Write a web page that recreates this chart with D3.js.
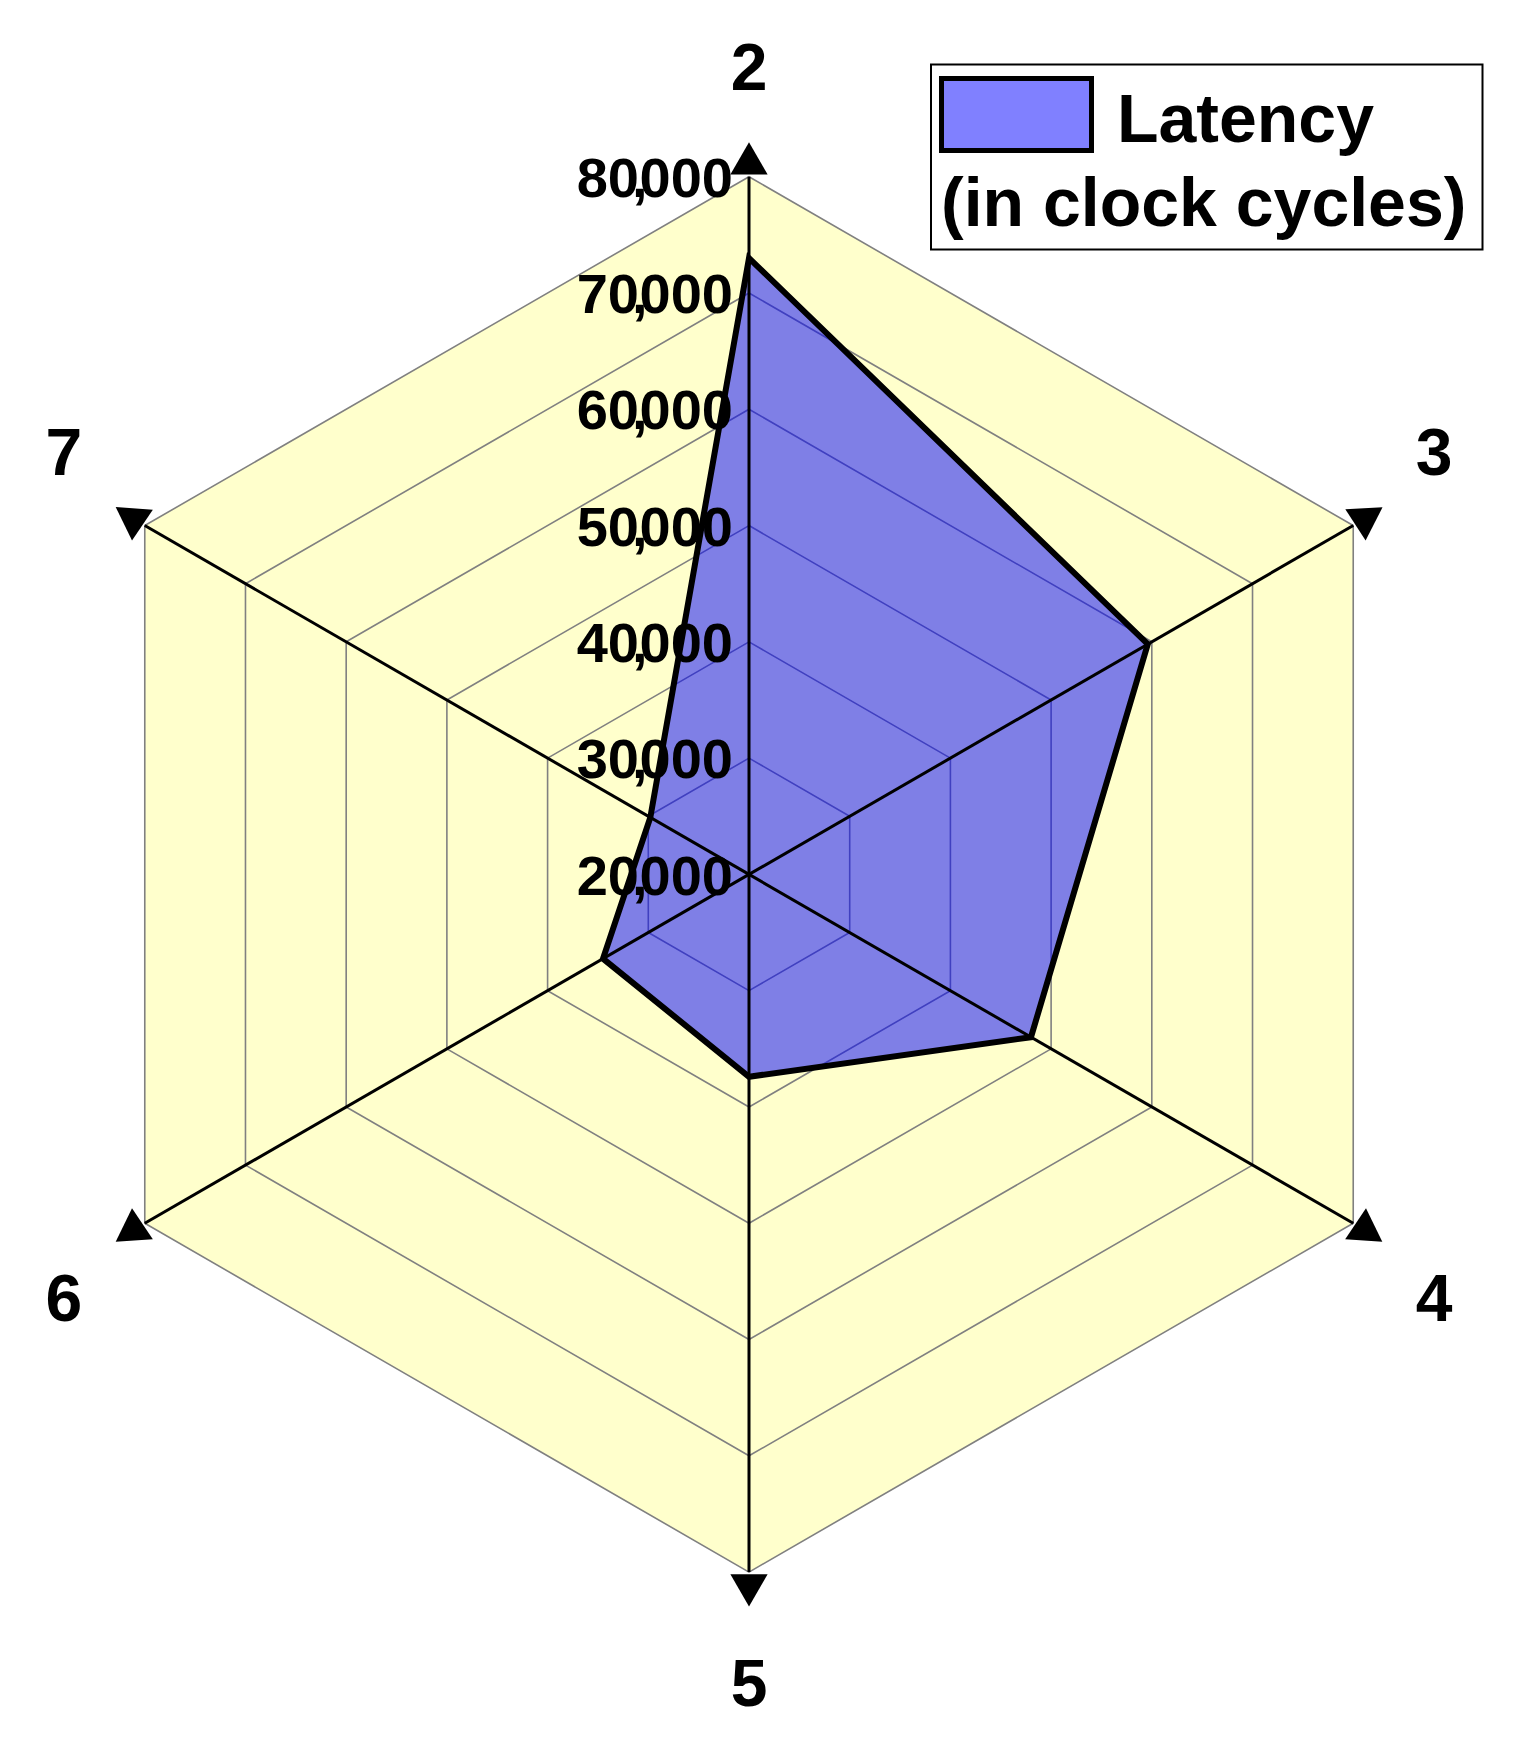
<!DOCTYPE html>
<html><head><meta charset="utf-8">
<script src="https://cdn.jsdelivr.net/npm/d3@7"></script>
<style>html,body{margin:0;padding:0;background:#fff}svg{display:block}text{font-family:"Liberation Sans",Arial,sans-serif;font-weight:bold}</style>
</head><body>
<svg id="chart" width="1526" height="1747"></svg>
<script>
const categories = ["2", "3", "4", "5", "6", "7"];
const latency = [73000, 59600, 48000, 37400, 34500, 29800];
const tickValues = [20000, 30000, 40000, 50000, 60000, 70000, 80000];
const seriesName = ["Latency", "(in clock cycles)"];

const W = 1526, H = 1747;
const cx = 749, cy = 874.4, R = 697.7;
const svg = d3.select("#chart");
const r = d3.scaleLinear().domain([20000, 80000]).range([0, R]);
const ang = d3.scalePoint().domain(categories).range([-90, 210]);
const pt = (c, v) => { const a = ang(c) * Math.PI / 180; return [cx + r(v) * Math.cos(a), cy + r(v) * Math.sin(a)]; };
const radial = d3.lineRadial().curve(d3.curveLinearClosed)
  .angle((d, i) => (ang(categories[i]) + 90) * Math.PI / 180);

const g = svg.append("g").attr("transform", `translate(${cx},${cy})`);
// yellow background
g.append("path").attr("d", radial.radius(() => r(80000))(categories)).attr("fill", "#FFFFCC").attr("stroke", "none");
// grid rings
tickValues.slice(1).forEach(t => {
  g.append("path").attr("d", radial.radius(() => r(t))(categories))
    .attr("fill", "none").attr("stroke", "#808080").attr("stroke-width", 1.6);
});
// axes
categories.forEach(c => {
  const [x, y] = pt(c, 80000);
  svg.append("line").attr("x1", cx).attr("y1", cy).attr("x2", x).attr("y2", y)
    .attr("stroke", "#000").attr("stroke-width", 3);
});
// arrow triangles
const rot = {"2": 0, "3": 177, "4": 4, "5": 180, "6": -4, "7": 184};
categories.forEach(c => {
  const a = ang(c) * Math.PI / 180;
  const [x, y] = pt(c, 80000);
  const tx = x + 13 * Math.cos(a), ty = y + 13 * Math.sin(a);
  svg.append("path").attr("d", d3.symbol(d3.symbolTriangle, 600)())
    .attr("transform", `translate(${tx},${ty}) rotate(${rot[c]})`).attr("fill", "#000");
});
// tick labels
tickValues.forEach(t => {
  const [x, y] = pt("2", t);
  const s = d3.format(",")(t).split(",");
  const tx = svg.append("text").attr("x", x - 16).attr("y", y).attr("dy", "0.36em")
    .attr("text-anchor", "end").attr("font-size", 56).attr("fill", "#000");
  tx.append("tspan").text(s[0]);
  tx.append("tspan").attr("dx", -7).text(",");
  tx.append("tspan").attr("dx", -8).text(s[1]);
});
// category labels
categories.forEach(c => {
  const a = ang(c) * Math.PI / 180;
  const [vx, vy] = pt(c, 80000);
  const diag = Math.abs(Math.cos(a)) > 0.1;
  const lx = diag ? vx + 81 * Math.sign(Math.cos(a)) : vx;
  const ly = vy + Math.sign(Math.sin(a)) * (diag ? 74 : 110);
  svg.append("text").attr("x", lx).attr("y", ly).attr("dy", "0.36em")
    .attr("text-anchor", "middle").attr("font-size", 66).attr("fill", "#000").text(c);
});
// data polygon
g.append("path").attr("d", radial.radius((d, i) => r(latency[i]))(categories))
  .attr("fill", "rgba(0,0,255,0.5)").attr("stroke", "#000").attr("stroke-width", 6)
  .attr("stroke-linejoin", "miter");
// legend
const lg = svg.append("g");
lg.append("rect").attr("x", 931).attr("y", 64.5).attr("width", 551.5).attr("height", 185)
  .attr("fill", "#fff").attr("stroke", "#000").attr("stroke-width", 2);
lg.append("rect").attr("x", 941.5).attr("y", 78.5).attr("width", 150).attr("height", 72)
  .attr("fill", "#8080FF").attr("stroke", "#000").attr("stroke-width", 5);
lg.append("text").attr("x", 1117).attr("y", 142)
  .attr("font-size", 68).attr("fill", "#000").text(seriesName[0]);
lg.append("text").attr("x", 941).attr("y", 226)
  .attr("font-size", 68).attr("fill", "#000").text(seriesName[1]);
</script>
</body></html>
